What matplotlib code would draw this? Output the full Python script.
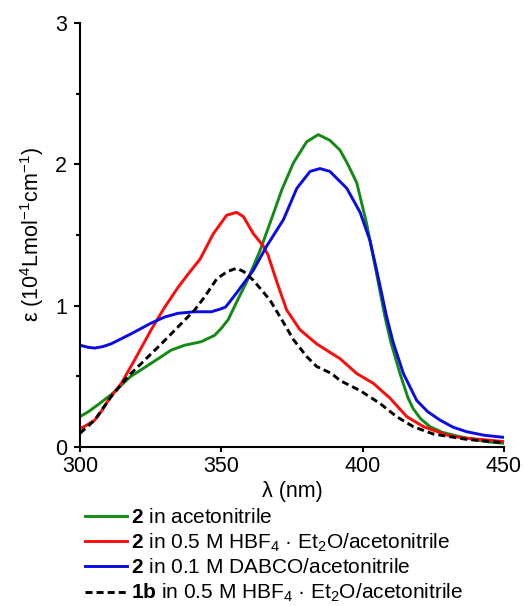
import numpy as np
import matplotlib
matplotlib.use("Agg")
import matplotlib.pyplot as plt
from matplotlib.ticker import MultipleLocator

plt.rcParams['font.family'] = ['Liberation Sans', 'DejaVu Sans']
plt.rcParams['mathtext.fontset'] = 'custom'
plt.rcParams['mathtext.rm'] = 'Liberation Sans'
plt.rcParams['mathtext.it'] = 'Liberation Sans:italic'
plt.rcParams['mathtext.bf'] = 'Liberation Sans:bold'

# 2 in acetonitrile (green)
wl_green = [300, 303, 306.4, 311, 318, 325, 332.3, 337, 342.9, 347.6, 350, 352.4, 356, 359, 363.7,
            368.4, 371.4, 375.5, 380.2, 384.3, 388.4, 392, 394.5, 397.9, 401.4, 404.4, 407.9,
            410, 413.2, 416, 417.9, 420.5, 423.8, 428, 433.3, 440, 445, 450]
eps_green = [0.215, 0.25, 0.30, 0.37, 0.50, 0.59, 0.686, 0.72, 0.745, 0.79, 0.84, 0.90, 1.05, 1.17, 1.39,
             1.65, 1.82, 2.01, 2.16, 2.21, 2.17, 2.10, 2.01, 1.87, 1.58, 1.28, 0.92,
             0.74, 0.52, 0.35, 0.27, 0.20, 0.144, 0.105, 0.078, 0.05, 0.035, 0.026]

# 2 in 0.5 M HBF4·Et2O/acetonitrile (red)
wl_red = [300, 302, 305.2, 307.5, 310, 314.6, 319.3, 325.2, 330, 334.7, 338.5, 342.5, 347.2, 351.9,
          355.4, 357.8, 361.3, 364.9, 366.5, 369.6, 373.1, 377.8, 383.7, 388, 392, 397.9, 403.8,
          409.7, 415.6, 421.5, 429.7, 435, 441.5, 450]
eps_red = [0.13, 0.15, 0.19, 0.25, 0.33, 0.45, 0.615, 0.83, 0.99, 1.13, 1.23, 1.33, 1.51, 1.64,
           1.66, 1.63, 1.51, 1.42, 1.36, 1.17, 0.97, 0.83, 0.73, 0.675, 0.625, 0.52, 0.45,
           0.345, 0.215, 0.144, 0.085, 0.065, 0.054, 0.038]

# 2 in 0.1 M DABCO/acetonitrile (blue)
wl_blue = [300, 303, 305.2, 308, 311, 318, 325, 330, 334.7, 340.6, 346.5, 349.5, 351.5, 355.4,
           361.3, 366, 372, 376.7, 381.4, 384.9, 388.4, 394.4, 399.1, 402.6, 405.5, 408.5, 410.8,
           414.4, 419.1, 423, 427.4, 432, 436.8, 443, 450]
eps_blue = [0.72, 0.705, 0.70, 0.71, 0.73, 0.80, 0.875, 0.92, 0.946, 0.957, 0.957, 0.975, 0.99, 1.09,
            1.25, 1.42, 1.61, 1.83, 1.95, 1.97, 1.95, 1.83, 1.66, 1.46, 1.20, 0.92, 0.74,
            0.52, 0.33, 0.25, 0.19, 0.14, 0.108, 0.083, 0.068]

# 1b in 0.5 M HBF4·Et2O/acetonitrile (black dashed)
wl_black = [300, 305.2, 311, 317, 322.9, 328.8, 334.7, 340.6, 344, 348.4, 352, 355.4, 358, 361.3,
            367.2, 372, 375.5, 380.2, 383.7, 389, 392, 399, 406, 412, 417.9, 425, 436.8, 450]
eps_black = [0.097, 0.19, 0.356, 0.50, 0.615, 0.73, 0.85, 0.97, 1.06, 1.19, 1.24, 1.265, 1.24, 1.18,
             1.04, 0.88, 0.76, 0.64, 0.57, 0.52, 0.47, 0.40, 0.31, 0.215, 0.144, 0.092, 0.054, 0.03]

labels = [r'$\mathbf{2}$ in acetonitrile',
          r'$\mathbf{2}$ in 0.5 M HBF$_4$ · Et$_2$O/acetonitrile',
          r'$\mathbf{2}$ in 0.1 M DABCO/acetonitrile',
          r'$\mathbf{1b}$ in 0.5 M HBF$_4$ · Et$_2$O/acetonitrile']

fig = plt.figure(figsize=(5.25, 6.06), dpi=100)
ax = fig.add_axes([80/525, 1-447/606, (504-80)/525, (447-23)/606])

lw = 2.1
l1, = ax.plot(wl_green, eps_green, color='#138a13', lw=lw, solid_joinstyle='round')
l2, = ax.plot(wl_red, eps_red, color='#ff0a0a', lw=lw, solid_joinstyle='round')
l3, = ax.plot(wl_blue, eps_blue, color='#0a0ae6', lw=lw, solid_joinstyle='round')
l4, = ax.plot(wl_black, eps_black, color='black', lw=lw, ls=(0, (2.4, 1.4)))

ax.set_xlim(300, 450)
ax.set_ylim(0, 3)
ax.xaxis.set_major_locator(MultipleLocator(50))
ax.yaxis.set_major_locator(MultipleLocator(1))
ax.yaxis.set_minor_locator(MultipleLocator(0.5))
for s in ['top', 'right']:
    ax.spines[s].set_visible(False)
for s in ['left', 'bottom']:
    ax.spines[s].set_linewidth(1.5)
ax.tick_params(axis='x', which='major', direction='out', length=3.5, width=1.5, labelsize=15.5, pad=3)
ax.tick_params(axis='y', which='major', direction='out', length=4.5, width=1.5, labelsize=15.5, pad=5)
ax.tick_params(axis='y', which='minor', direction='out', length=3, width=1.5)
ax.set_xlabel('λ (nm)', fontsize=15.5, labelpad=3)
ax.set_ylabel(r'ε (10$^4$Lmol$^{-1}$cm$^{-1}$)', fontsize=15.5, labelpad=6)

fig.legend([l1, l2, l3, l4], labels, loc='upper left', bbox_to_anchor=(85/525, 1-508/606),
           frameon=False, fontsize=15, handlelength=2.0, handletextpad=0.2,
           labelspacing=0.22, borderaxespad=0, borderpad=0)

fig.savefig('out.png', dpi=100)
